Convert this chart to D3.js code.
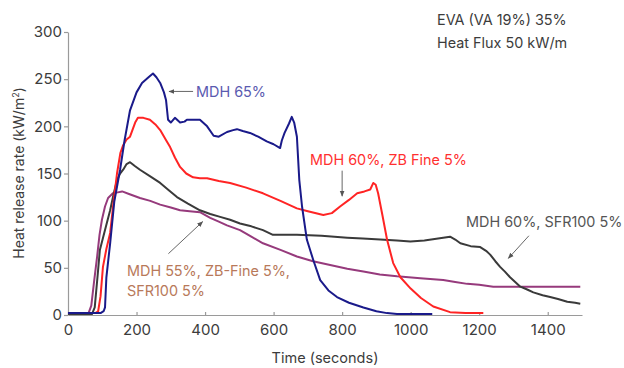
<!DOCTYPE html>
<html>
<head>
  <meta charset="utf-8">
  <script src="https://d3js.org/d3.v7.min.js"></script>
  <style>
    body { margin: 0; background: #fff; }
    text { font-family: Inter, "Noto Sans", sans-serif; }
  </style>
</head>
<body>
<script>
  var w = 624, h = 368;

  // series: [time (s), heat release rate (kW/m2)]
  var mdh65 = [[0,2],[95,2],[104,4],[108,8],[112,40],[123,76],[135,120],[152,154],[165,185],[181,217],[200,236],[216,246],[235,252],[248,256],[258,252],[269,246],[280,236],[286,228],[292,207],[300,204],[312,209],[327,204],[340,205],[347,207],[385,207],[406,200],[425,190],[440,189],[464,194],[482,196],[493,197],[510,195],[531,193],[555,189],[580,184],[600,181],[619,177],[624,185],[632,193],[645,203],[653,210],[660,204],[668,189],[675,143],[683,115],[697,80],[716,58],[736,37],[760,26],[785,19],[820,13],[862,8],[900,4],[931,2],[960,1],[1063,1]];
  var mdh60zb = [[0,2],[80,2],[88,4],[95,20],[102,51],[112,70],[123,87],[133,120],[143,150],[153,172],[161,180],[171,186],[181,189],[196,204],[204,209],[220,209],[239,207],[255,202],[269,196],[285,186],[298,178],[312,167],[327,157],[345,150],[365,146],[385,145],[406,145],[440,142],[473,140],[520,135],[569,129],[620,121],[668,113],[700,110],[745,106],[770,108],[794,115],[820,122],[844,129],[865,131],[882,133],[891,140],[898,138],[905,129],[918,105],[931,80],[949,55],[970,40],[1000,28],[1030,18],[1066,9],[1115,3],[1160,2],[1212,2]];
  var mdh60sfr = [[0,1],[70,1],[78,8],[86,40],[93,69],[108,90],[123,111],[133,128],[143,143],[152,150],[161,154],[171,160],[181,162],[195,158],[210,154],[240,147],[269,140],[295,132],[318,125],[350,118],[385,111],[415,107],[444,104],[473,101],[502,97],[535,94],[569,90],[598,85],[668,85],[740,84],[815,82],[860,81],[911,80],[960,79],[999,78],[1040,79],[1080,81],[1115,83],[1130,80],[1145,76],[1175,73],[1203,72],[1220,68],[1232,64],[1247,57],[1261,51],[1275,46],[1290,40],[1305,35],[1320,30],[1340,27],[1358,24],[1385,21],[1407,19],[1430,17],[1457,14],[1480,13],[1495,12]];
  var mdh55 = [[0,2],[60,2],[68,10],[76,35],[85,62],[92,85],[99,101],[108,115],[117,124],[131,129],[145,130],[158,131],[180,128],[210,124],[240,121],[269,117],[300,114],[327,111],[355,110],[385,109],[415,103],[440,99],[464,95],[502,90],[535,83],[569,76],[620,69],[668,62],[715,57],[765,53],[815,49],[862,46],[910,43],[960,41],[1028,39],[1095,37],[1130,35],[1165,33],[1200,32],[1241,30],[1300,30],[1400,30],[1495,30]];

  var seriesData = [mdh55, mdh60sfr, mdh60zb, mdh65];
  var seriesColors = ["#963a7c", "#3a3a3a", "#ff2424", "#1a1a8a"];

  var xTicks = [0, 200, 400, 600, 800, 1000, 1200, 1400];
  var yTicks = [0, 50, 100, 150, 200, 250, 300];

  var svg = d3.select("body").append("svg")
    .attr("width", w)
    .attr("height", h);

  var x = d3.scaleLinear().domain([0, 1500]).range([68, 582]);
  var y = d3.scaleLinear().domain([0, 300]).range([315, 32]);

  // axes
  var xAxis = svg.append("g")
    .attr("transform", "translate(0,315)")
    .call(d3.axisBottom(x).tickValues(xTicks).tickFormat(d3.format("d"))
      .tickSizeInner(-3).tickSizeOuter(0).tickPadding(9));
  var yAxis = svg.append("g")
    .attr("transform", "translate(68,0)")
    .call(d3.axisLeft(y).tickValues(yTicks).tickSize(4).tickSizeOuter(0).tickPadding(2));

  svg.selectAll(".domain, .tick line").attr("stroke", "#9a9a9a").attr("stroke-width", 1.2);
  svg.selectAll(".tick text")
    .attr("fill", "#3c3c3c")
    .style("font-size", "15px")
    .style("font-family", "Inter, sans-serif");
  yAxis.selectAll(".tick text").attr("dy", "0.32em");

  // axis titles
  svg.append("text")
    .attr("transform", "translate(24,173) rotate(-90)")
    .attr("text-anchor", "middle")
    .attr("fill", "#3c3c3c")
    .style("font-size", "14px")
    .html("Heat release rate (kW/m<tspan dy='-5' font-size='9px'>2</tspan><tspan dy='5'>)</tspan>");

  svg.append("text")
    .attr("x", 325)
    .attr("y", 363)
    .attr("text-anchor", "middle")
    .attr("fill", "#3c3c3c")
    .style("font-size", "14.5px")
    .text("Time (seconds)");

  // curves
  var line = d3.line()
    .x(function(d){ return x(d[0]); })
    .y(function(d){ return y(d[1]); });

  svg.selectAll("path.curve")
    .data(seriesData)
    .enter()
    .append("path")
    .attr("class", "curve")
    .attr("d", line)
    .attr("fill", "none")
    .attr("stroke", function(d, i){ return seriesColors[i]; })
    .attr("stroke-width", 2)
    .attr("stroke-linejoin", "round");

  // arrow marker
  svg.append("defs").append("marker")
    .attr("id", "head")
    .attr("viewBox", "0 0 10 10")
    .attr("refX", 9).attr("refY", 5)
    .attr("markerWidth", 6).attr("markerHeight", 6)
    .attr("orient", "auto")
    .append("path")
    .attr("d", "M0,1 L10,5 L0,9 Z")
    .attr("fill", "#555");

  function arrow(t0, v0, t1, v1) {
    svg.append("line")
      .attr("x1", x(t0)).attr("y1", y(v0))
      .attr("x2", x(t1)).attr("y2", y(v1))
      .attr("stroke", "#666")
      .attr("stroke-width", 1)
      .attr("marker-end", "url(#head)");
  }

  function label(px, py, txt, col) {
    svg.append("text")
      .attr("x", px).attr("y", py)
      .attr("fill", col)
      .style("font-size", "14.4px")
      .text(txt);
  }

  // annotations
  label(437, 25, "EVA (VA 19%) 35%", "#3c3c3c");
  label(437, 48, "Heat Flux 50 kW/m", "#3c3c3c");

  label(196, 97, "MDH 65%", "#5a5ab0");
  arrow(365, 237, 295, 237);

  label(310, 165, "MDH 60%, ZB Fine 5%", "#ff3030");
  arrow(800, 153, 800, 126);

  label(466, 227, "MDH 60%, SFR100 5%", "#555555");
  arrow(1345, 84, 1285, 60);

  label(127, 276, "MDH 55%, ZB-Fine 5%,", "#b8795a");
  label(127, 296, "SFR100 5%", "#b8795a");
  arrow(293, 65, 393, 99);
</script>
</body>
</html>
